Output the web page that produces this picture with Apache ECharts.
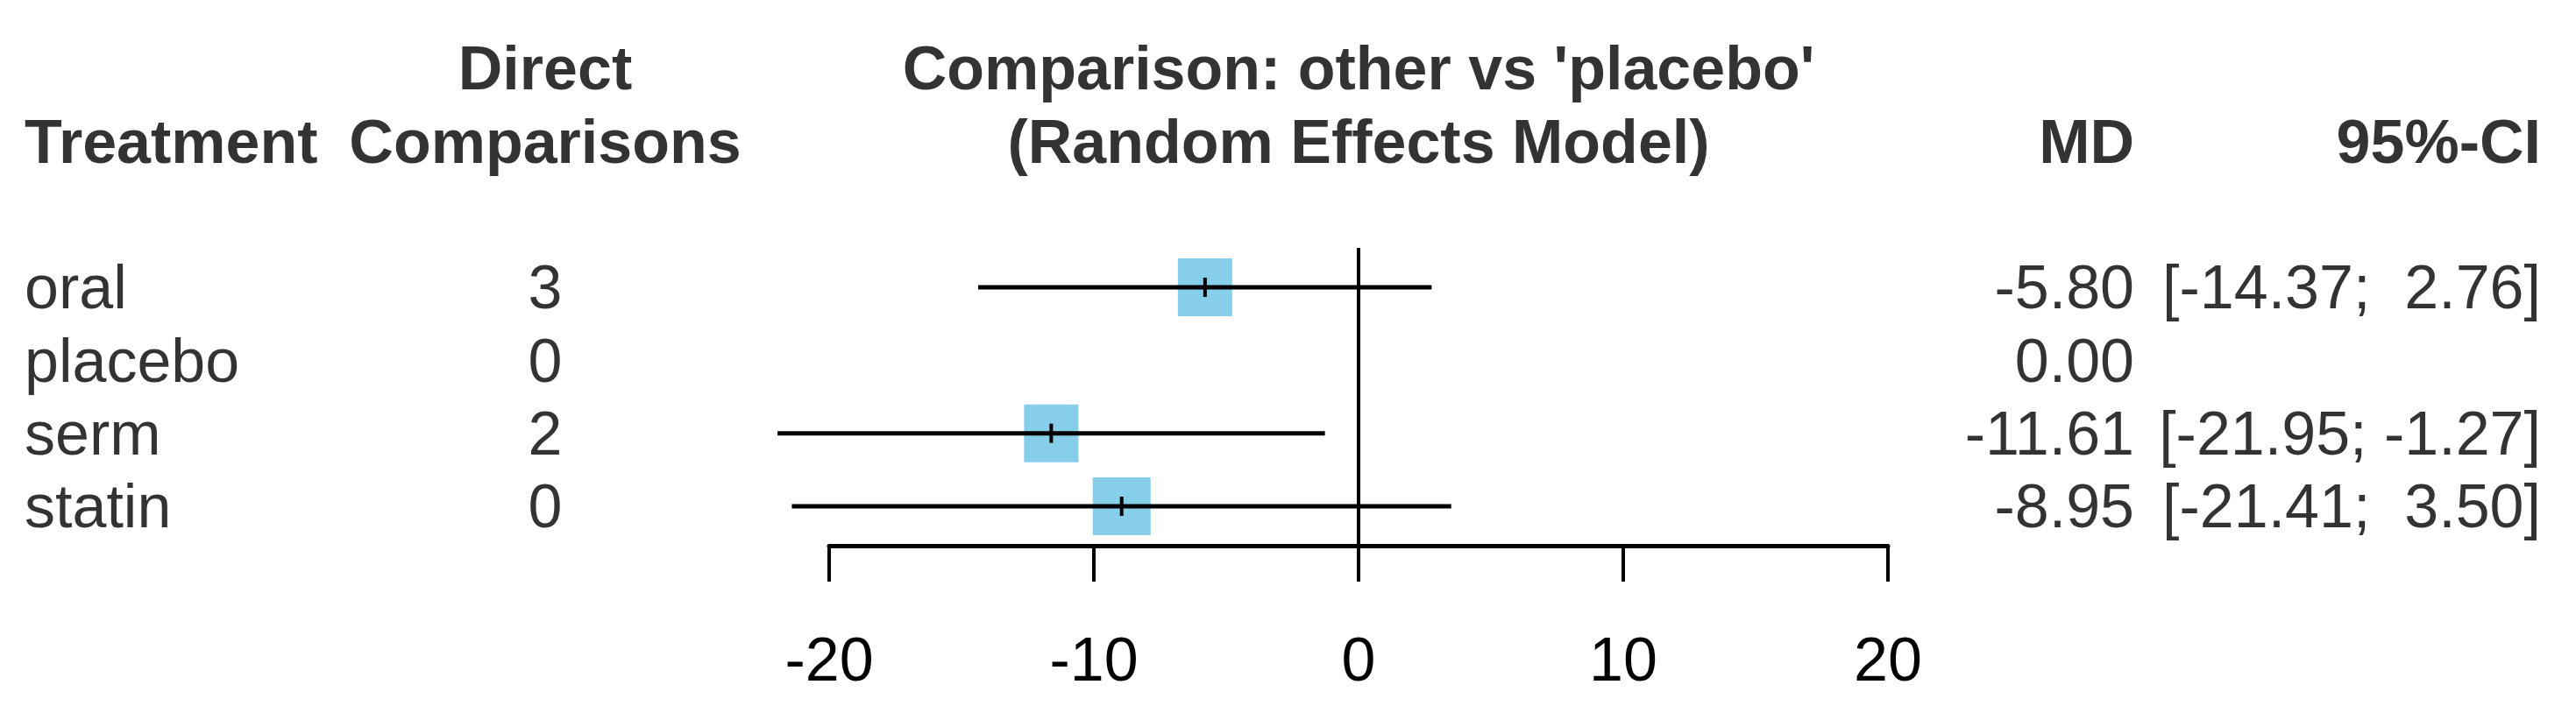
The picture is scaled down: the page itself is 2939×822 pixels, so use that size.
<!DOCTYPE html>
<html><head><meta charset="utf-8">
<script src="https://cdn.jsdelivr.net/npm/echarts@6/dist/echarts.min.js"></script>
<style>html,body{margin:0;padding:0;background:#fff}#c{width:2939px;height:822px}</style>
</head><body><div id="c"></div>
<script>
// ---------------- data ----------------
const treatments = ['oral', 'placebo', 'serm', 'statin'];
const directComparisons = [3, 0, 2, 0];
const md = [-5.80, 0.00, -11.61, -8.95];
const ciLower = [-14.37, null, -21.95, -21.41];
const ciUpper = [2.76, null, -1.27, 3.50];
const xTicks = [-20, -10, 0, 10, 20];
const headerTop = ['', 'Direct', "Comparison: other vs 'placebo'", '', ''];
const headerBottom = ['Treatment', 'Comparisons', '(Random Effects Model)', 'MD', '95%-CI'];

// ---------------- layout / style ----------------
const W = 2939, H = 822;
const FONT = '"Liberation Sans", Arial, sans-serif';
const FS = 70;
const ROW0 = 328, ROWH = 83.33;
const PLOT_LEFT = 946, PLOT_RIGHT = 2154, PLOT_TOP = 283, PLOT_BOTTOM = 623;
const BOX = [[62, 66], [0, 0], [62, 66], [66, 66]];
const BOX_COLOR = '#87CEEB';
const COLS = [
  {x: 28, align: 'left'}, {x: 622, align: 'center'}, {x: 1550, align: 'center'},
  {x: 2435, align: 'right'}, {x: 2899, align: 'right'}
];
const HEADER_ROWS = [-3.0, -2.0];
const TEXT_OFFSET = 5;

// ---------------- build ----------------
const fmt = v => v.toFixed(2);
const loStr = ciLower.map(v => v == null ? '' : fmt(v));
const hiStr = ciUpper.map(v => v == null ? '' : fmt(v));
const loLen = Math.max(...loStr.map(s => s.length));
const hiLen = Math.max(...hiStr.map(s => s.length));
const ciText = loStr.map((l, i) => l === '' ? '' : '[' + l.padStart(loLen, ' ') + '; ' + hiStr[i].padStart(hiLen, ' ') + ']');

const textItems = [];
function addText(col, row, text, bold) {
  if (!text) return;
  textItems.push({
    value: [COLS[col].x, row], text: text,
    label: {align: COLS[col].align, fontWeight: bold ? 'bold' : 'normal'}
  });
}
headerTop.forEach((t, c) => addText(c, HEADER_ROWS[0], t, true));
headerBottom.forEach((t, c) => addText(c, HEADER_ROWS[1], t, true));
treatments.forEach((t, r) => {
  addText(0, r, t, false);
  addText(1, r, String(directComparisons[r]), false);
  addText(3, r, fmt(md[r]), false);
  addText(4, r, ciText[r], false);
});

const ciData = [];
treatments.forEach((t, r) => {
  if (ciLower[r] != null) ciData.push({value: [md[r], r, ciLower[r], ciUpper[r]], box: BOX[r]});
});

const chart = echarts.init(document.getElementById('c'), null, {renderer: 'canvas', width: W, height: H});
chart.setOption({
  backgroundColor: '#ffffff',
  animation: false,
  grid: [
    {left: PLOT_LEFT, width: PLOT_RIGHT - PLOT_LEFT, top: PLOT_TOP, height: PLOT_BOTTOM - PLOT_TOP, containLabel: false},
    {left: 0, width: W, top: 0, height: H, containLabel: false}
  ],
  xAxis: [
    {
      type: 'value', gridIndex: 0, min: xTicks[0], max: xTicks[xTicks.length - 1],
      interval: xTicks[1] - xTicks[0], position: 'bottom',
      axisLine: {show: true, onZero: false, lineStyle: {color: '#000', width: 5}},
      axisTick: {show: true, length: 41, lineStyle: {color: '#000', width: 4}},
      axisLabel: {color: '#000', fontSize: FS, fontFamily: FONT, margin: 100},
      splitLine: {show: false}
    },
    {type: 'value', gridIndex: 1, min: 0, max: W, show: false}
  ],
  yAxis: [
    {type: 'value', gridIndex: 0, inverse: true, min: (PLOT_TOP - ROW0) / ROWH, max: (PLOT_BOTTOM - ROW0) / ROWH, show: false},
    {type: 'value', gridIndex: 1, inverse: true, min: -ROW0 / ROWH, max: (H - ROW0) / ROWH, show: false}
  ],
  series: [
    {
      type: 'custom', xAxisIndex: 0, yAxisIndex: 0, clip: false, silent: true,
      data: ciData,
      renderItem: function (params, api) {
        const item = ciData[params.dataIndex];
        const c = api.coord([api.value(0), api.value(1)]);
        const a = api.coord([api.value(2), api.value(1)]);
        const b = api.coord([api.value(3), api.value(1)]);
        const w = item.box[0], h = item.box[1];
        return {
          type: 'group',
          children: [
            {type: 'rect', shape: {x: c[0] - w / 2, y: c[1] - h / 2, width: w, height: h}, style: {fill: BOX_COLOR}},
            {type: 'line', shape: {x1: a[0], y1: a[1], x2: b[0], y2: b[1]}, style: {stroke: '#000', lineWidth: 5}},
            {type: 'line', shape: {x1: c[0], y1: c[1] - 11, x2: c[0], y2: c[1] + 11}, style: {stroke: '#000', lineWidth: 4}}
          ]
        };
      },
      markLine: {
        silent: true, symbol: ['none', 'none'], label: {show: false},
        lineStyle: {color: '#000', width: 4, type: 'solid'},
        data: [{xAxis: 0}]
      }
    },
    {
      type: 'scatter', xAxisIndex: 1, yAxisIndex: 1, symbolSize: 1, silent: true, clip: false,
      itemStyle: {color: 'rgba(0,0,0,0)'},
      data: textItems,
      label: {
        show: true, position: 'inside', color: '#000', fontFamily: FONT, fontSize: FS,
        verticalAlign: 'middle', offset: [0, TEXT_OFFSET],
        formatter: p => p.data.text
      }
    }
  ]
});
</script></body></html>
